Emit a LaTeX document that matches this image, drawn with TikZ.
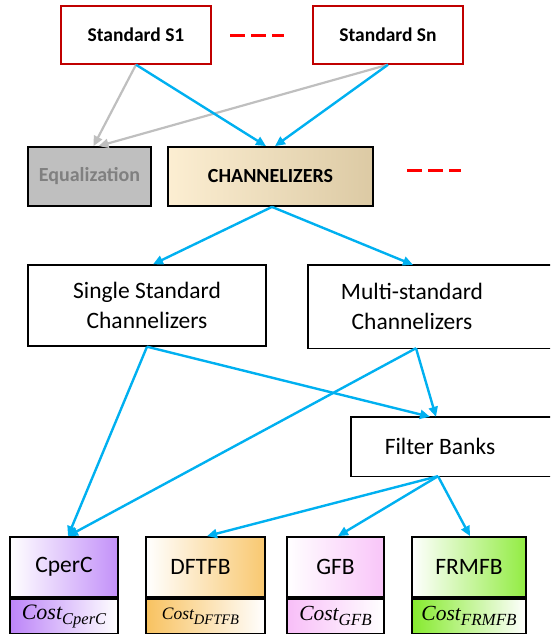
\documentclass[tikz,border=0pt]{standalone}
\usepackage{fontspec}
\setmainfont{Carlito}
\newfontfamily\costfont{Liberation Serif}
\usetikzlibrary{arrows.meta,positioning}
\definecolor{flow}{HTML}{00B0F0}
\definecolor{muted}{HTML}{BFBFBF}
\definecolor{stdred}{HTML}{C00000}
\definecolor{chanlight}{HTML}{FCEED2}
\definecolor{chandark}{HTML}{DCCAA4}
\definecolor{cpurple}{HTML}{BC84F8}
\definecolor{corange}{HTML}{F8C260}
\definecolor{cpink}{HTML}{F8BEF8}
\definecolor{cgreen}{HTML}{86EA2E}
\newcommand{\costlbl}[3]{{\fontsize{#1}{#1}\selectfont\costfont\itshape Cost\raisebox{-5pt}{\fontsize{#2}{#2}\selectfont #3}}}

\begin{document}
\begin{tikzpicture}[
x=1pt, y=-1pt,
node distance=0pt,
stdbox/.style={draw=stdred, line width=1.4pt, fill=white, minimum width=150pt, minimum height=58pt, inner sep=0pt, font=\fontsize{19.5}{23}\selectfont\bfseries},
topbox/.style={draw=black, line width=1.8pt, minimum height=59pt, inner sep=0pt, font=\fontsize{20}{23}\selectfont\bfseries},
plainbox/.style={minimum height=#1, inner sep=0pt, align=center, font=\fontsize{23.5}{30}\selectfont},
algbox/.style={draw=black, line width=1.8pt, minimum height=60pt, inner sep=0pt, shade, left color=white, middle color=#1!12, right color=#1!90, font=\fontsize{23.5}{28}\selectfont},
costbox/.style={draw=black, line width=1.8pt, minimum height=35pt, inner sep=0pt, shade, left color=#1, right color=white},
arrow/.style={-{Triangle[length=10pt, width=9pt]}, line width=2.4pt, draw=flow},
grayarrow/.style={-{Triangle[length=10pt, width=9pt]}, line width=2.2pt, draw=muted},
gap/.style={draw=red, line width=3pt, dash pattern=on 15pt off 6pt}
]
\clip (0,0) rectangle (550,634);
% standards
\node[stdbox] (s1) at (136,35) {Standard S1};
\node[stdbox] (sn) at (388,35) {Standard Sn};
\coordinate (g1a) at (230,36);
\coordinate (g1b) at (284,36);
\draw[gap] (g1a) -- (g1b);
% second level
\node[topbox, minimum width=123pt, fill=muted, text=black!50] (eq) at (89.5,176.5) {Equalization};
\node[topbox, minimum width=205pt, shade, left color=chanlight, middle color=chanlight!92!chandark, right color=chandark] (chan) at (270.5,176.5) {CHANNELIZERS};
\coordinate (g2a) at (407,170);
\coordinate (g2b) at (461,170);
\draw[gap] (g2a) -- (g2b);
% channelizer classes
\node[plainbox=81pt, draw=black, line width=1.4pt, minimum width=238pt] (single) at (147,305.5) {Single Standard\\Channelizers};
\node[plainbox=83pt, minimum width=208pt] (multi) at (412,306.5) {Multi-standard\\Channelizers};
\draw[black, line width=1.4pt] (multi.south west) rectangle ([xshift=60pt]multi.north east);
\node[plainbox=59pt, minimum width=178pt] (fb) at (440,446.5) {Filter Banks};
\draw[black, line width=1.4pt] (fb.south west) rectangle ([xshift=60pt]fb.north east);
% algorithms and costs
\node[algbox=cpurple, minimum width=108pt] (cperc) at (64,567) {CperC};
\node[costbox=cpurple, minimum width=108pt, below=of cperc] (cpercCost) {\costlbl{22}{16.5}{CperC}};
\node[algbox=corange, minimum width=119pt] (dftfb) at (205.5,567) {\hspace*{-10pt}DFTFB};
\node[costbox=corange, minimum width=119pt, below=of dftfb] (dftfbCost) {\hspace*{-10pt}\costlbl{17.5}{14.5}{DFTFB}};
\node[algbox=cpink, minimum width=97pt] (gfb) at (335.5,567) {GFB};
\node[costbox=cpink, minimum width=97pt, below=of gfb] (gfbCost) {\costlbl{21.5}{17}{GFB}};
\node[algbox=cgreen, minimum width=114pt] (frmfb) at (469,567) {FRMFB};
\node[costbox=cgreen, minimum width=114pt, below=of frmfb] (frmfbCost) {\costlbl{21.5}{17}{FRMFB}};
% connectors
\draw[grayarrow] (s1.south) -- ([xshift=4pt]eq.north);
\draw[grayarrow] (sn.south) -- ([xshift=9pt]eq.north);
\draw[arrow] (s1.south) -- ([xshift=-4.5pt]chan.north);
\draw[arrow] (sn.south) -- ([xshift=4.5pt]chan.north);
\draw[arrow] ([xshift=1.5pt]chan.south) -- ([xshift=6pt]single.north);
\draw[arrow] ([xshift=1.5pt]chan.south) -- ([xshift=1pt]multi.north);
\draw[arrow] (single.south) -- ([xshift=4pt]cperc.north);
\draw[arrow] (single.south) -- ([xshift=-10pt]fb.north);
\draw[arrow] ([xshift=4pt]multi.south) -- ([xshift=4pt]cperc.north);
\draw[arrow] ([xshift=4pt]multi.south) -- ([xshift=-4pt]fb.north);
\draw[arrow] ([xshift=-2pt]fb.south) -- ([xshift=1.5pt]dftfb.north);
\draw[arrow] ([xshift=-2pt]fb.south) -- ([xshift=2.5pt]gfb.north);
\draw[arrow] ([xshift=-2pt]fb.south) -- ([xshift=1pt]frmfb.north);
\end{tikzpicture}
\end{document}
